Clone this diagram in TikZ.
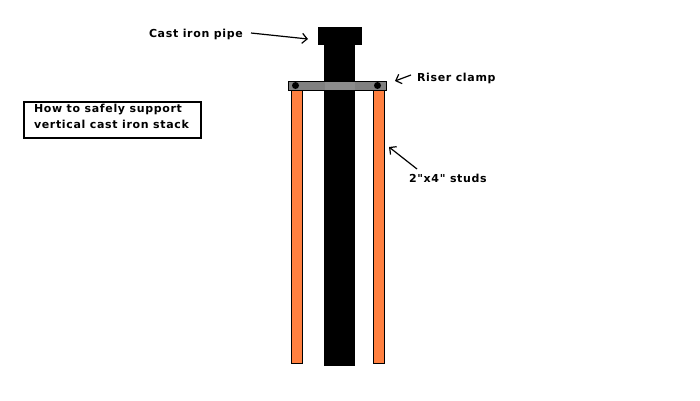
\documentclass[tikz,border=0pt]{standalone}
\usepackage{fontspec}
\newfontfamily\labelfont[LetterSpace=6]{DejaVu Sans}
\usepackage{xcolor}
\usetikzlibrary{arrows.meta, positioning}
\definecolor{studorange}{RGB}{255,128,64}
\definecolor{clampgray}{RGB}{128,128,128}
\definecolor{clampmid}{RGB}{140,140,140}
\tikzset{
	part/.style={draw=black, inner sep=0pt, outer sep=0pt, line width=1pt},
	pipepart/.style={part, fill=black},
	stud/.style={part, fill=studorange, minimum width=10.5pt, minimum height=273pt},
	clamp/.style={part, fill=clampgray},
	bolt/.style={circle, fill=black, inner sep=0pt, minimum size=7pt},
	label/.style={inner sep=0pt, outer sep=0pt, font=\fontsize{11}{16.5}\labelfont\bfseries, text=black},
	pointer/.style={-{Straight Barb[length=5pt,width=10pt]}, line width=1.2pt}
}
\begin{document}
\begin{tikzpicture}[x=1pt, y=-1pt]
	\useasboundingbox (0,0) rectangle (700,400);

	\node[pipepart, minimum width=30pt, minimum height=320pt] (Pipe) at (339.5,205) {};
	\node[pipepart, minimum width=43pt, minimum height=17pt] (Pipe cap) at (340,36) {};
	\node[stud] (Left stud) at (297,226.5) {};
	\node[stud] (Right stud) at (379,226.5) {};
	\node[clamp, minimum width=98pt, minimum height=9pt] (Clamp) at (337.5,85.5) {};
	\node[draw=none, fill=clampmid, inner sep=0pt, minimum width=30pt, minimum height=8pt] (Clamp middle) at (339.5,85.5) {};
	\node[bolt] (Left bolt) at (295.5,85.5) {};
	\node[bolt] (Right bolt) at (377.5,85.5) {};

	\node[draw, line width=2pt, inner sep=0pt, minimum width=177pt, minimum height=36pt] (Title box) at (112.5,119.5) {};
	\node[label, align=left, anchor=west] (Title) at (34,116.5) {How to safely support\\
		vertical cast iron stack};

	\node[label, anchor=west] (Pipe label) at (149,34) {Cast iron pipe};
	\node[label, anchor=west] (Clamp label) at (417,78.5) {Riser clamp};
	\node[label, anchor=west] (Stud label) at (409,178.5) {2"x4" studs};

	\coordinate (Pipe start) at (251,33);
	\coordinate (Pipe tip) at (308,39);
	\coordinate (Clamp start) at (411,75);
	\coordinate (Clamp tip) at (395,81);
	\coordinate (Stud start) at (417,169);
	\coordinate (Stud tip) at (389,147);

	\draw[pointer] (Pipe start) to (Pipe tip);
	\draw[pointer] (Clamp start) to (Clamp tip);
	\draw[pointer] (Stud start) to (Stud tip);
\end{tikzpicture}
\end{document}
